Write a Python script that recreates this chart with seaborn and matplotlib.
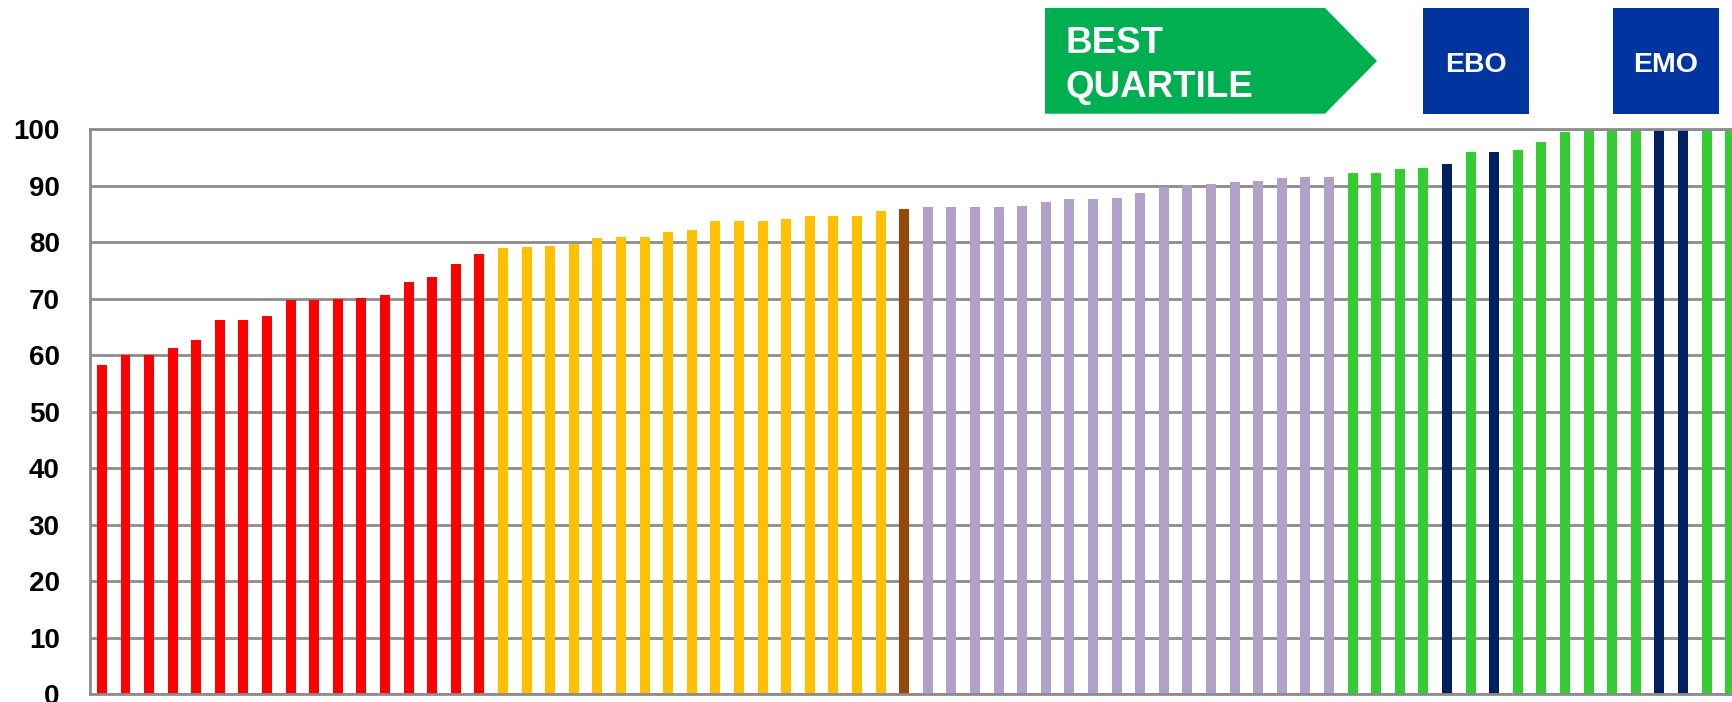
import pandas as pd
import seaborn as sns
import matplotlib.pyplot as plt
from matplotlib.patches import Polygon, Rectangle

# ----- values, sorted low to high ----- #
red_vals = [58.2, 60.1, 60.1, 61.2, 62.6, 66.3, 66.3, 66.9, 69.7, 69.7,
            70.0, 70.2, 70.6, 72.9, 73.8, 76.1, 78.0]
yellow_vals = [78.9, 79.1, 79.3, 79.6, 80.8, 81.0, 81.0, 81.9, 82.1, 83.7,
               83.7, 83.7, 84.2, 84.7, 84.7, 84.7, 85.6]
brown_vals = [85.8]
purple_vals = [86.2, 86.2, 86.2, 86.3, 86.5, 87.2, 87.6, 87.6, 87.9, 88.8,
               89.8, 90.2, 90.4, 90.7, 90.9, 91.3, 91.5, 91.6]
best_vals = [92.2, 92.3, 92.9, 93.2, 93.8, 95.9, 95.9, 96.3, 97.7, 99.6,
             99.8, 100, 100, 100, 100, 100, 100]
# which of the best-quartile bars are highlighted (EBO / EMO)
best_marked = [0, 0, 0, 0, 1, 0, 1, 0, 0, 0, 0, 0, 0, 1, 1, 0, 0]

y_ticks = [0, 10, 20, 30, 40, 50, 60, 70, 80, 90, 100]

RED, YELLOW, BROWN = '#FF0000', '#FFC000', '#974706'
PURPLE, GREEN, NAVY = '#B1A0C7', '#33CC33', '#002060'
GRID = '#8C8C8C'


def build_frame():
    values = red_vals + yellow_vals + brown_vals + purple_vals + best_vals
    colors = ([RED] * len(red_vals) + [YELLOW] * len(yellow_vals)
              + [BROWN] * len(brown_vals) + [PURPLE] * len(purple_vals)
              + [NAVY if m else GREEN for m in best_marked])
    df = pd.DataFrame({'pos': range(len(values)), 'score': values, 'color': colors})
    return df


def main():
    df = build_frame()
    W, H = 1733, 702

    fig = plt.figure(figsize=(W / 100, H / 100), dpi=100)
    ax = fig.add_axes([90.3 / W, 1 - 694 / H, 1 - 90.3 / W, (694 - 129.3) / H])

    palette = dict(zip(df['pos'], df['color']))
    sns.barplot(data=df, x='pos', y='score', hue='pos', palette=palette,
                legend=False, width=0.42, saturation=1, ax=ax)

    # ----- axes styling ----- #
    ax.set_xlim(-0.49, 69.12)
    ax.set_ylim(0, 100)
    ax.set_yticks(y_ticks)
    ax.set_yticklabels([str(t) for t in y_ticks], fontsize=20, fontweight='bold',
                       family='Liberation Sans')
    ax.set_xticks([])
    ax.set_xlabel('')
    ax.set_ylabel('')
    ax.tick_params(axis='y', length=0, pad=22)
    ax.yaxis.grid(True, color=GRID, linewidth=2)
    ax.set_axisbelow(True)
    for side in ['left', 'bottom', 'top']:
        ax.spines[side].set_color(GRID)
        ax.spines[side].set_linewidth(2)
    ax.spines['right'].set_visible(False)

    # ----- header badges (pixel coords, top-down) ----- #
    def fy(y):
        return 1 - y / H

    arrow = [(1045, 8), (1325, 8), (1377, 61), (1325, 113.7), (1045, 113.7)]
    fig.patches.append(Polygon([(x / W, fy(y)) for x, y in arrow], closed=True,
                               transform=fig.transFigure, facecolor='#00AF50',
                               edgecolor='none'))
    fig.text(1065.5 / W, fy(53.3), 'BEST', color='white', fontsize=26.5,
             fontweight='bold', family='Liberation Sans', va='baseline')
    fig.text(1065.5 / W, fy(96.7), 'QUARTILE', color='white', fontsize=26.5,
             fontweight='bold', family='Liberation Sans', va='baseline')

    for x0, x1, label in [(1423, 1528.7, 'EBO'), (1613, 1718.6, 'EMO')]:
        fig.patches.append(Rectangle((x0 / W, fy(113.7)), (x1 - x0) / W,
                                     (113.7 - 8) / H, transform=fig.transFigure,
                                     facecolor='#0035A0', edgecolor='none'))
        fig.text((x0 + x1) / 2 / W, fy(72.3), label, color='white', fontsize=20.5,
                 fontweight='bold', family='Liberation Sans', ha='center',
                 va='baseline')

    fig.savefig('out.png', dpi=100)


if __name__ == '__main__':
    main()
